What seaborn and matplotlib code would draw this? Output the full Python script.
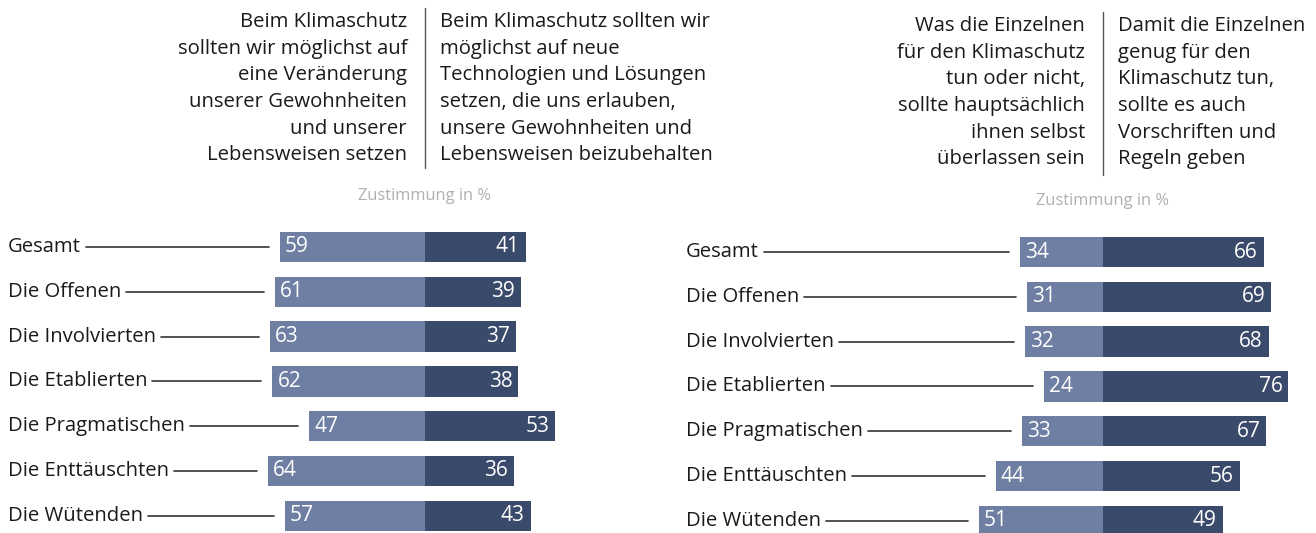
import matplotlib
matplotlib.use("Agg")
import matplotlib.pyplot as plt
import seaborn as sns
import pandas as pd

categories = ["Gesamt", "Die Offenen", "Die Involvierten", "Die Etablierten",
              "Die Pragmatischen", "Die Enttäuschten", "Die Wütenden"]
left_a = [59, 61, 63, 62, 47, 64, 57]
right_a = [41, 39, 37, 38, 53, 36, 43]
left_b = [34, 31, 32, 24, 33, 44, 51]
right_b = [66, 69, 68, 76, 67, 56, 49]

head_a_left = ["Beim Klimaschutz", "sollten wir möglichst auf", "eine Veränderung",
               "unserer Gewohnheiten", "und unserer", "Lebensweisen setzen"]
head_a_right = ["Beim Klimaschutz sollten wir", "möglichst auf neue",
                "Technologien und Lösungen", "setzen, die uns erlauben,",
                "unsere Gewohnheiten und", "Lebensweisen beizubehalten"]
head_b_left = ["Was die Einzelnen", "für den Klimaschutz", "tun oder nicht,",
               "sollte hauptsächlich", "ihnen selbst", "überlassen sein"]
head_b_right = ["Damit die Einzelnen", "genug für den", "Klimaschutz tun,",
                "sollte es auch", "Vorschriften und", "Regeln geben"]
unit_label = "Zustimmung in %"

sns.set_theme(style="white")
plt.rcParams["font.family"] = ["Open Sans", "DejaVu Sans"]

W, H = 1316, 533
fig = plt.figure(figsize=(W / 100, H / 100), dpi=100)

LIGHT = "#6e7fa3"
DARK = "#3a4a6b"
TXT = "#1a1a1a"
FS = 14.6


def fy(py):
    return 1 - py / H


def make_panel(px0, px1, center, scale, row0, lefts, rights, headL, headR,
               base0, sep_top, sep_bot, unit_y, label_x):
    ytop, ybot = 205, 533
    spacing = 44.8
    ax = fig.add_axes([px0 / W, 1 - ybot / H, (px1 - px0) / W, (ybot - ytop) / H])
    df = pd.DataFrame({"cat": categories, "neg": [-v for v in lefts], "pos": rights})
    sns.barplot(data=df, x="neg", y="cat", orient="h", color=LIGHT, width=0.68,
                saturation=1, ax=ax)
    sns.barplot(data=df, x="pos", y="cat", orient="h", color=DARK, width=0.68,
                saturation=1, ax=ax)
    for p in ax.patches:
        p.set_linewidth(0)
    xlo = -(center - px0) / scale
    xhi = (px1 - center) / scale
    ax.set_xlim(xlo, xhi)
    ax.set_ylim((ybot - row0) / spacing, (ytop - row0) / spacing)
    ax.axis("off")
    for i, (l, r) in enumerate(zip(lefts, rights)):
        ax.text(-l + 5 / scale, i, str(l), color="white", fontsize=15,
                va="center", ha="left")
        ax.text(r - 6 / scale, i, str(r), color="white", fontsize=15,
                va="center", ha="right")
    labels = []
    for i, c in enumerate(categories):
        t = ax.text(xlo + (label_x - px0) / scale, i, c, fontsize=FS,
                    color=TXT, va="center", ha="left")
        labels.append(t)
    fig.canvas.draw()
    r = fig.canvas.get_renderer()
    inv = ax.transData.inverted()
    for i, t in enumerate(labels):
        bb = t.get_window_extent(renderer=r)
        x_start = inv.transform((bb.x1 + 5, 0))[0]
        x_end = -lefts[i] - 11 / scale
        ax.plot([x_start, x_end], [i, i], color="#333333", lw=1.2)
    fx = center / W
    for k, (a, b) in enumerate(zip(headL, headR)):
        y = fy(base0 + k * 26.7)
        fig.text(fx - 18 / W, y, a, ha="right", va="baseline",
                 fontsize=FS, color=TXT)
        fig.text(fx + 15 / W, y, b, ha="left", va="baseline",
                 fontsize=FS, color=TXT)
    fig.add_artist(plt.Line2D([fx, fx], [fy(sep_top), fy(sep_bot)],
                              color="#555555", lw=1))
    fig.text(fx, fy(unit_y), unit_label, ha="center", va="center",
             fontsize=11.8, color="#b0b0b0")
    return ax


make_panel(0, 660, 425, 2.46, 247, left_a, right_a, head_a_left, head_a_right,
           27, 8, 168, 196, 8)
make_panel(670, 1316, 1103, 2.44, 252, left_b, right_b, head_b_left, head_b_right,
           31, 12, 175, 201, 686)

fig.savefig("out.png", dpi=100, facecolor="white")
